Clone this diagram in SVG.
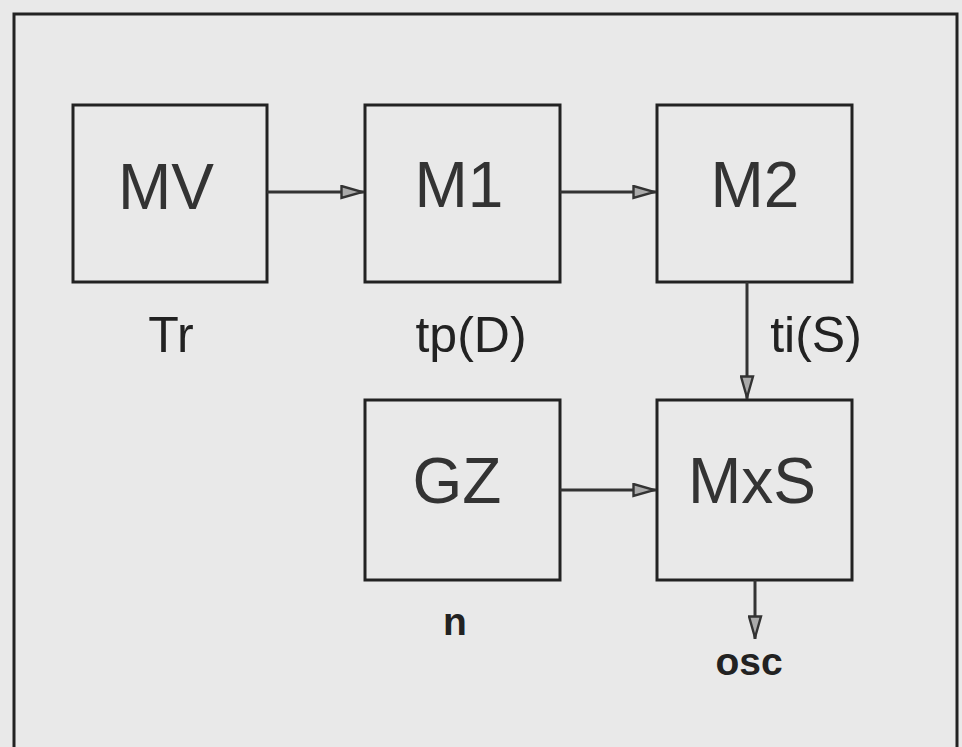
<svg xmlns="http://www.w3.org/2000/svg" width="962" height="747" viewBox="0 0 962 747">
<defs>
<style>
.box{fill:none;stroke:#222;stroke-width:3}
.big{font-family:"Liberation Sans",Arial,sans-serif;font-size:64px;fill:#333;text-anchor:middle}
.lbl{font-family:"Liberation Sans",Arial,sans-serif;font-size:50px;fill:#222;text-anchor:middle}
.bl{font-family:"Liberation Sans",Arial,sans-serif;font-size:39px;font-weight:bold;fill:#222;text-anchor:middle}
.con{stroke:#333;stroke-width:3;fill:none;marker-end:url(#ah)}
</style>
<marker id="ah" markerWidth="8" markerHeight="5" refX="8" refY="2.5" orient="auto" markerUnits="strokeWidth">
<path d="M0.5,0.5 L7.5,2.5 L0.5,4.5 Z" fill="#aaa" stroke="#333" stroke-width="0.8"/>
</marker>
</defs>
<rect width="962" height="747" fill="#e9e9e9"/>
<rect x="14" y="14" width="943" height="745" fill="none" stroke="#222" stroke-width="3"/>
<g id="MV"><rect class="box" x="73" y="105" width="194" height="177"/><text class="big" x="166" y="209">MV</text></g>
<g id="M1"><rect class="box" x="365" y="105" width="195" height="177"/><text class="big" x="459" y="207">M1</text></g>
<g id="M2"><rect class="box" x="657" y="105" width="195" height="177"/><text class="big" x="755" y="207">M2</text></g>
<g id="GZ"><rect class="box" x="365" y="400" width="195" height="180"/><text class="big" x="457" y="503">GZ</text></g>
<g id="MxS"><rect class="box" x="657" y="400" width="195" height="180"/><text class="big" x="752" y="503">MxS</text></g>
<g id="labels">
<text class="lbl" x="171" y="352">Tr</text>
<text class="lbl" x="471" y="352">tp(D)</text>
<text class="lbl" x="816" y="352">ti(S)</text>
<text class="bl" x="455" y="635">n</text>
<text class="bl" x="749" y="675">osc</text>
</g>
<g id="connectors">
<path class="con" d="M267,192 L364,192"/>
<path class="con" d="M560,192 L656,192"/>
<path class="con" d="M747,282 L747,399"/>
<path class="con" d="M560,490 L656,490"/>
<path class="con" d="M755,580 L755,639"/>
</g>
</svg>
